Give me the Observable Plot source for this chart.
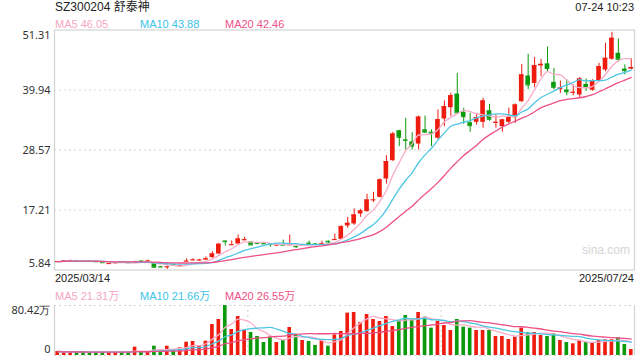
<!DOCTYPE html>
<html><head><meta charset="utf-8">
<script src="https://cdn.jsdelivr.net/npm/d3@7"></script>
<script src="https://cdn.jsdelivr.net/npm/@observablehq/plot@0.6"></script>
<style>
body{margin:0;background:#fff;font-family:Arial,"Liberation Sans","Noto Sans CJK SC",sans-serif;}
#root{position:relative;width:640px;height:360px;overflow:hidden;background:#fff;}
#root svg{position:absolute;left:0;}
.t{position:absolute;white-space:nowrap;line-height:1;z-index:2;}
</style></head><body><div id="root"></div>
<script>
const title = "SZ300204 舒泰神";
const timeLabel = "07-24 10:23";
const dates = [
"2025/03/14","2025/03/17","2025/03/18","2025/03/19","2025/03/20","2025/03/21","2025/03/24","2025/03/25","2025/03/26","2025/03/27","2025/03/28","2025/03/31",
"2025/04/01","2025/04/02","2025/04/03","2025/04/07","2025/04/08","2025/04/09","2025/04/10","2025/04/11","2025/04/14","2025/04/15","2025/04/16","2025/04/17","2025/04/18","2025/04/21","2025/04/22","2025/04/23","2025/04/24","2025/04/25","2025/04/28","2025/04/29","2025/04/30",
"2025/05/06","2025/05/07","2025/05/08","2025/05/09","2025/05/12","2025/05/13","2025/05/14","2025/05/15","2025/05/16","2025/05/19","2025/05/20","2025/05/21","2025/05/22","2025/05/23","2025/05/26","2025/05/27","2025/05/28","2025/05/29","2025/05/30",
"2025/06/03","2025/06/04","2025/06/05","2025/06/06","2025/06/09","2025/06/10","2025/06/11","2025/06/12","2025/06/13","2025/06/16","2025/06/17","2025/06/18","2025/06/19","2025/06/20","2025/06/23","2025/06/24","2025/06/25","2025/06/26","2025/06/27","2025/06/30",
"2025/07/01","2025/07/02","2025/07/03","2025/07/04","2025/07/07","2025/07/08","2025/07/09","2025/07/10","2025/07/11","2025/07/14","2025/07/15","2025/07/16","2025/07/17","2025/07/18","2025/07/21","2025/07/22","2025/07/23","2025/07/24"];
const open  = [7.30,7.42,7.55,7.62,7.55,7.50,7.45,7.28,7.00,7.12,7.40,7.24,7.18,7.55,7.45,7.17,6.46,6.38,6.85,6.50,
7.45,7.68,7.65,7.75,8.17,8.87,11.33,10.55,10.77,11.45,11.14,10.95,10.86,10.76,10.50,10.60,10.54,10.30,10.50,10.95,
10.80,10.75,11.30,11.50,11.65,14.18,14.56,16.45,16.90,19.05,19.60,23.08,26.55,32.23,30.50,30.10,29.70,32.40,31.95,30.80,
34.45,36.59,39.18,35.72,33.75,33.82,33.82,36.02,33.70,33.00,33.82,34.70,37.73,42.60,41.20,44.50,44.90,41.40,40.00,39.94,
39.40,39.00,41.00,39.90,41.65,43.73,45.76,46.90,43.90,43.90];
const high  = [7.48,7.60,7.70,7.65,7.60,7.55,7.48,7.32,7.10,7.28,7.45,7.28,7.50,7.60,7.72,7.20,6.55,6.60,6.92,6.62,
7.98,7.95,7.85,8.30,9.31,10.90,11.33,11.33,12.47,12.04,11.20,11.00,11.00,10.78,10.60,11.50,12.47,10.50,10.60,11.30,
10.85,11.30,11.30,12.65,14.23,15.82,17.40,17.34,20.18,20.56,23.10,27.50,31.90,32.30,34.60,31.85,35.00,35.00,32.40,36.15,
37.86,39.32,43.10,36.50,35.53,35.30,38.37,37.23,35.20,34.40,36.50,37.30,44.80,46.70,46.10,45.75,48.10,44.05,41.65,41.84,
40.90,42.30,42.03,41.90,45.00,48.80,50.87,49.60,44.70,45.90];
const low   = [7.25,7.38,7.50,7.50,7.45,7.40,7.28,7.15,6.95,7.08,7.30,7.15,7.15,7.45,7.40,6.30,6.30,5.97,6.70,6.45,
7.40,7.60,7.55,7.70,8.10,8.80,10.39,10.50,10.55,11.40,10.50,10.80,10.65,10.14,10.30,10.50,10.50,9.90,10.45,10.60,
10.70,10.70,10.80,11.45,11.60,13.74,14.30,15.82,16.80,18.60,19.50,22.10,26.40,29.20,28.57,28.57,28.57,31.70,29.20,30.60,
33.00,34.88,35.50,33.44,31.93,33.30,32.70,34.00,32.70,31.93,33.60,33.60,37.60,40.00,40.40,42.45,43.30,39.94,39.30,38.86,
38.86,38.37,39.70,39.70,41.50,43.40,45.60,45.20,42.80,43.80];
const close = [7.42,7.55,7.62,7.55,7.50,7.45,7.40,7.22,7.05,7.18,7.35,7.20,7.24,7.50,7.52,6.35,6.40,6.43,6.80,6.56,
7.51,7.75,7.71,7.95,8.87,10.71,11.22,10.62,11.71,11.56,10.58,10.88,10.80,10.70,10.56,10.55,10.60,10.25,10.56,10.90,
10.75,10.81,11.15,11.60,14.04,14.69,16.26,17.02,19.10,19.12,22.90,26.36,31.60,30.98,30.40,29.30,34.80,31.95,31.75,34.30,
36.78,38.86,35.60,34.88,33.18,34.70,37.86,34.40,33.82,34.26,34.70,37.10,42.80,40.90,44.55,44.80,44.00,40.45,40.30,39.60,
39.50,42.03,40.40,41.70,44.36,45.95,49.74,45.76,43.60,44.20];
const volume = [6.4,5.4,5.4,5.4,5.4,5.4,5.4,5.4,5.4,5.4,5.4,5.4,13.4,5.4,5.4,15.0,7.0,15.0,8.0,12.3,
21.4,22.5,15.0,23.0,49.9,57.9,80.42,41.8,62.7,41.3,37.0,30.6,20.9,29.5,20.9,24.1,45.0,33.2,24.1,22.5,
16.1,24.1,15.0,33.2,38.6,68.1,69.2,53.1,65.9,57.9,54.7,62.7,46.6,56.3,64.3,57.4,69.2,61.7,44.0,54.7,
48.2,40.2,57.9,45.6,44.0,40.2,40.2,40.2,30.6,30.6,25.7,29.5,44.0,36.5,37.0,32.2,30.6,34.8,24.1,20.9,
18.8,24.1,21.4,19.8,24.1,25.2,25.2,28.4,17.7,9.6];
const priceTicks = [5.84, 17.21, 28.57, 39.94, 51.31];
const volTicks = [0, 80.42];
const maNames = ["MA5", "MA10", "MA20"];
const maPeriods = [5, 10, 20];
const priceMAText = ["46.05", "43.88", "42.46"];
const volMAText = ["21.31万", "21.66万", "26.55万"];

const RED = "#ee1c0f", GREEN = "#0b9a0b";
const maColors = ["#f8adc8", "#4cc6e4", "#ee4f87"];
const legendColors = ["#f7a6c3", "#3cc3e6", "#ec4f86"];

const data = dates.map((d, i) => ({date: d, open: open[i], high: high[i], low: low[i], close: close[i], volume: volume[i],
  color: close[i] >= open[i] ? RED : GREEN}));

const root = document.getElementById("root");
function addText(txt, style) {
  const el = document.createElement("div");
  el.className = "t";
  el.textContent = txt;
  Object.assign(el.style, style);
  root.appendChild(el);
}

const xOpts = {type: "band", domain: dates, padding: 0, axis: null};
const common = {width: 640, marginLeft: 54, marginRight: 6};

const maLines = (field) => maPeriods.map((k, j) =>
  Plot.lineY(data, Plot.windowY({k, anchor: "end", reduce: "mean"},
    {x: "date", y: field, stroke: maColors[j], strokeWidth: 1.3, curve: "monotone-x"})));

const axisOpts = {tickSize: 0, tickPadding: 4, fontSize: 11, fill: "#333", label: null};

const price = Plot.plot({
  ...common, height: 282, marginTop: 29.5, marginBottom: 12.5,
  style: {background: "transparent", overflow: "visible"},
  x: xOpts,
  y: {domain: [priceTicks[0], priceTicks[4]], axis: null, label: null},
  marks: [
    Plot.ruleY(priceTicks.slice(1, 4), {stroke: "#d9d9d9", strokeDasharray: "2,3", strokeWidth: 1.2}),
    Plot.frame({stroke: "#d3d3d3", strokeWidth: 1.2}),
    Plot.ruleX(data, {x: "date", y1: "low", y2: "high", stroke: "color", strokeWidth: 1}),
    Plot.barY(data, {x: "date", y1: "open", y2: "close", fill: "color", insetLeft: 0.9, insetRight: 0.9}),
    Plot.tickY(data, {x: "date", y: "close", stroke: "color", strokeWidth: 1, insetLeft: 0.9, insetRight: 0.9}),
    ...maLines("close"),
    Plot.axisY([priceTicks[4]], {...axisOpts, dy: 5.8, tickFormat: d => d.toFixed(2)}),
    Plot.axisY(priceTicks.slice(1, 4), {...axisOpts, tickFormat: d => d.toFixed(2)}),
    Plot.axisY([priceTicks[0]], {...axisOpts, dy: -6.5, tickFormat: d => d.toFixed(2)})
  ]
});
price.style.top = "0px";
root.appendChild(price);

const vol = Plot.plot({
  ...common, height: 60, marginTop: 5, marginBottom: 5,
  style: {background: "transparent", overflow: "visible"},
  x: xOpts,
  y: {domain: [volTicks[0], volTicks[1]], axis: null, label: null},
  marks: [
    Plot.ruleY(volTicks, {stroke: "#d3d3d3", strokeDasharray: "2,3", strokeWidth: 1.2}),
    Plot.ruleX([dates[30], dates[60]], {x: d => d, stroke: "#d3d3d3", strokeDasharray: "2,3", dx: -3.22}),
    Plot.ruleX([dates[0]], {x: d => d, stroke: "#d3d3d3", strokeWidth: 1.2, dx: -3.22}),
    Plot.ruleX([dates[89]], {x: d => d, stroke: "#d3d3d3", strokeWidth: 1.2, dx: 3.22}),
    Plot.barY(data, {x: "date", y: "volume", fill: "color", insetLeft: 1.4, insetRight: 1.4}),
    ...maLines("volume"),
    Plot.axisY([volTicks[1]], {...axisOpts, dy: 5.3, tickFormat: d => d.toFixed(2) + "万"}),
    Plot.axisY([volTicks[0]], {...axisOpts, dy: -5.8, tickFormat: d => String(d)})
  ]
});
vol.style.top = "300px";
root.appendChild(vol);

addText(title, {left: "55px", top: "1.4px", fontSize: "12px", color: "#222"});
addText(timeLabel, {right: "6px", top: "2px", fontSize: "11px", color: "#222"});
const xs = [55, 140, 225];
maNames.forEach((n, j) => addText(n + " " + priceMAText[j], {left: xs[j] + "px", top: "19px", fontSize: "11px", color: legendColors[j]}));
maNames.forEach((n, j) => addText(n + " " + volMAText[j], {left: xs[j] + "px", top: "290.5px", fontSize: "11px", color: legendColors[j]}));
addText(dates[0], {left: "55px", top: "273px", fontSize: "11px", color: "#222"});
addText(dates[dates.length - 1], {right: "6px", top: "273px", fontSize: "11px", color: "#222"});
addText("sina.com", {left: "582px", top: "243.5px", fontSize: "12px", color: "#d6d6d6"});
</script></body></html>
